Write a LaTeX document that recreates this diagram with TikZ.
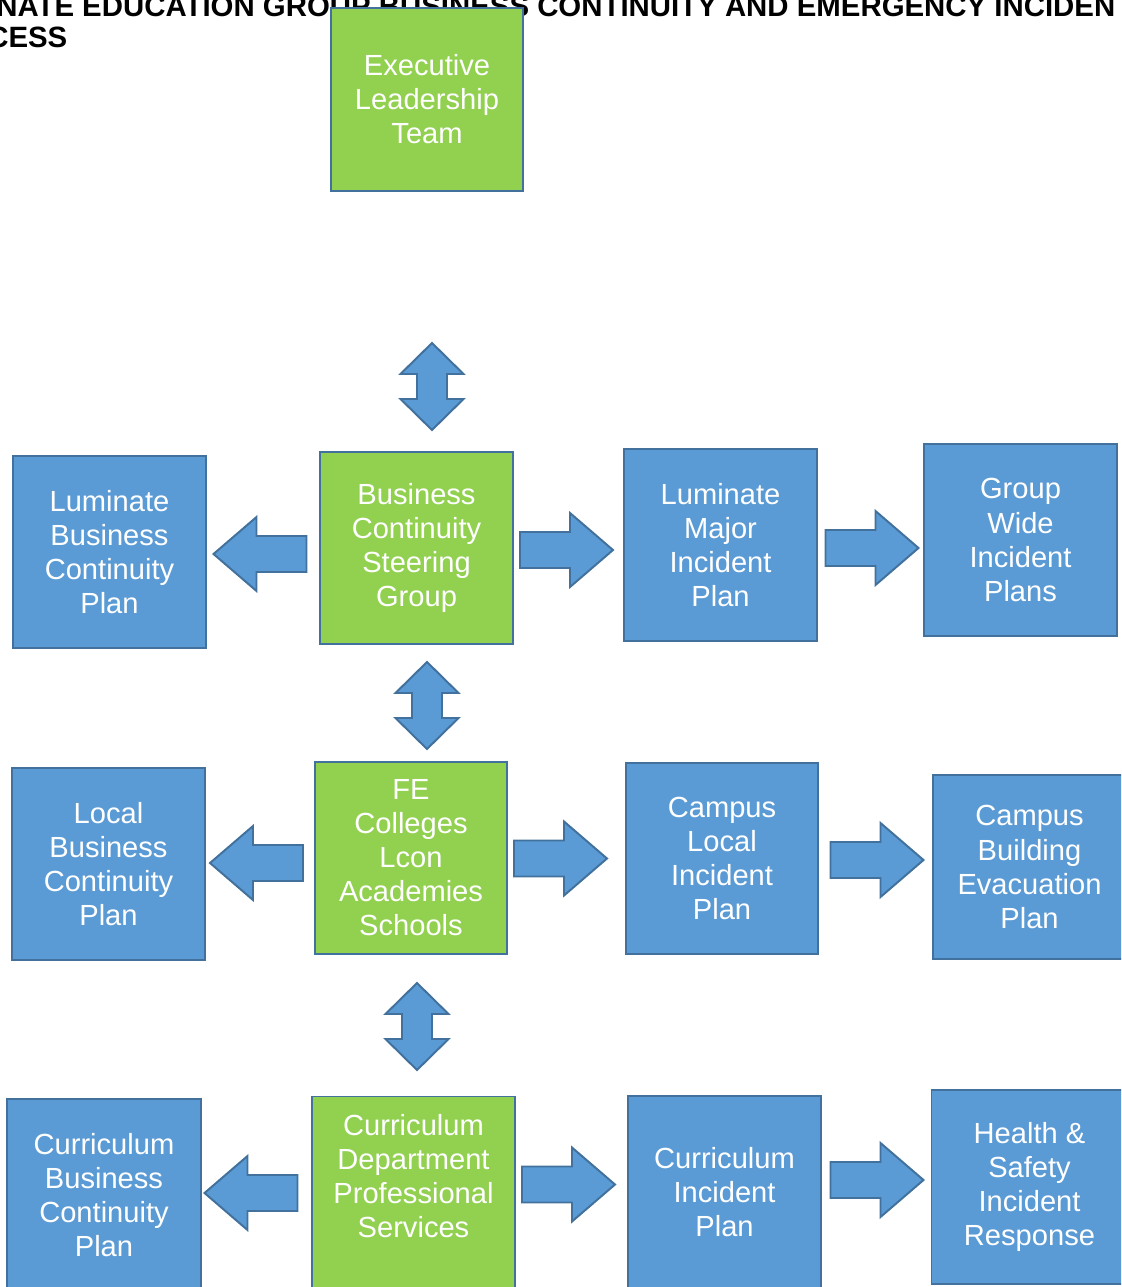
\documentclass[tikz,border=0pt]{standalone}
\usepackage{fontspec}
\setmainfont{Liberation Sans}
\usepackage{tikz}
\usetikzlibrary{positioning}
\definecolor{planGreen}{HTML}{92D050}
\definecolor{planBlue}{HTML}{5B9BD5}
\definecolor{edgeBlue}{HTML}{41719C}

\begin{document}
\begin{tikzpicture}[x=0.025cm, y=-0.025cm,
    plan/.style={draw=edgeBlue, line width=1.4pt, text=white, align=center,
      minimum width=4.825cm, minimum height=4.8cm, inner sep=0pt,
      font=\fontsize{20.7}{24.2}\selectfont},
    greenplan/.style={plan, fill=planGreen},
    blueplan/.style={plan, fill=planBlue},
    blockarrow/.style={draw=edgeBlue, line width=1.4pt, fill=planBlue, line join=miter},
    rarrow/.pic={\draw[blockarrow] (-46.5,-18) -- (3.5,-18) -- (3.5,-37) -- (46.5,0)
      -- (3.5,37) -- (3.5,18) -- (-46.5,18) -- cycle;},
    larrow/.pic={\draw[blockarrow] (46.5,-18) -- (-3.5,-18) -- (-3.5,-37) -- (-46.5,0)
      -- (-3.5,37) -- (-3.5,18) -- (46.5,18) -- cycle;},
    udarrow/.pic={\draw[blockarrow] (0,-43.5) -- (31.5,-12.5) -- (15,-12.5) -- (15,12.5)
      -- (31.5,12.5) -- (0,43.5) -- (-31.5,12.5) -- (-15,12.5) -- (-15,-12.5)
      -- (-31.5,-12.5) -- cycle;},
    titletext/.style={anchor=base west, inner sep=0pt, font=\fontsize{20.9}{31}\selectfont\bfseries}
  ]
  \clip (0,0) rectangle (1121,1287);

  % title, cut at the page edges and partly hidden by the top box
  \node[titletext] (title) at (-4,17) {NATE EDUCATION GROUP BUSINESS CONTINUITY AND EMERGENCY INCIDEN};
  \node[titletext] (titlerest) at (-13,48) {CESS};

  % top level
  \node[greenplan, minimum width=4.8cm, minimum height=4.575cm] (elt) at (427,99.5) {Executive\\Leadership\\Team};

  % first row
  \node[blueplan] (lbcp) at (109.5,552) {Luminate\\Business\\Continuity\\Plan};
  \node[greenplan] (bcsg) at (416.5,548) {Business\\Continuity\\Steering\\Group};
  \node[blueplan] (lmip) at (720.5,545) {Luminate\\Major\\Incident\\Plan};
  \node[blueplan] (gwip) at (1020.5,540) {Group\\Wide\\Incident\\Plans};

  % second row
  \node[blueplan] (localbcp) at (108.5,864) {Local\\Business\\Continuity\\Plan};
  \node[greenplan, minimum width=4.8cm, minimum height=4.775cm] (fe) at (411,858) {FE\\Colleges\\Lcon\\Academies\\Schools};
  \node[blueplan, minimum width=4.8cm, minimum height=4.775cm] (clip) at (722,858.5) {Campus\\Local\\Incident\\Plan};
  \node[blueplan, minimum height=4.6cm] (cbep) at (1029.5,867) {Campus\\Building\\Evacuation\\Plan};

  % third row
  \node[blueplan] (cbcp) at (104,1195) {Curriculum\\Business\\Continuity\\Plan};
  \node[greenplan, minimum width=5.075cm, minimum height=4.825cm] (cdps) at (413.5,1193) {Curriculum\\Department\\Professional\\Services\\\mbox{}};
  \node[blueplan] (cip) at (724.5,1192) {Curriculum\\Incident\\Plan};
  \node[blueplan, minimum width=4.9cm, minimum height=4.85cm] (hsir) at (1029.5,1187) {Health \&\\Safety\\Incident\\Response};

  % block arrows
  \foreach \x/\y in {566.5/550, 872/548, 560.5/858.5, 877/860, 568.5/1184.5, 877/1180}
    \pic at (\x,\y) {rarrow};
  \foreach \x/\y in {260/554, 256.5/863, 251/1193}
    \pic at (\x,\y) {larrow};
  \foreach \x/\y in {432/386.5, 427/705.5, 417/1026.5}
    \pic at (\x,\y) {udarrow};
\end{tikzpicture}
\end{document}
